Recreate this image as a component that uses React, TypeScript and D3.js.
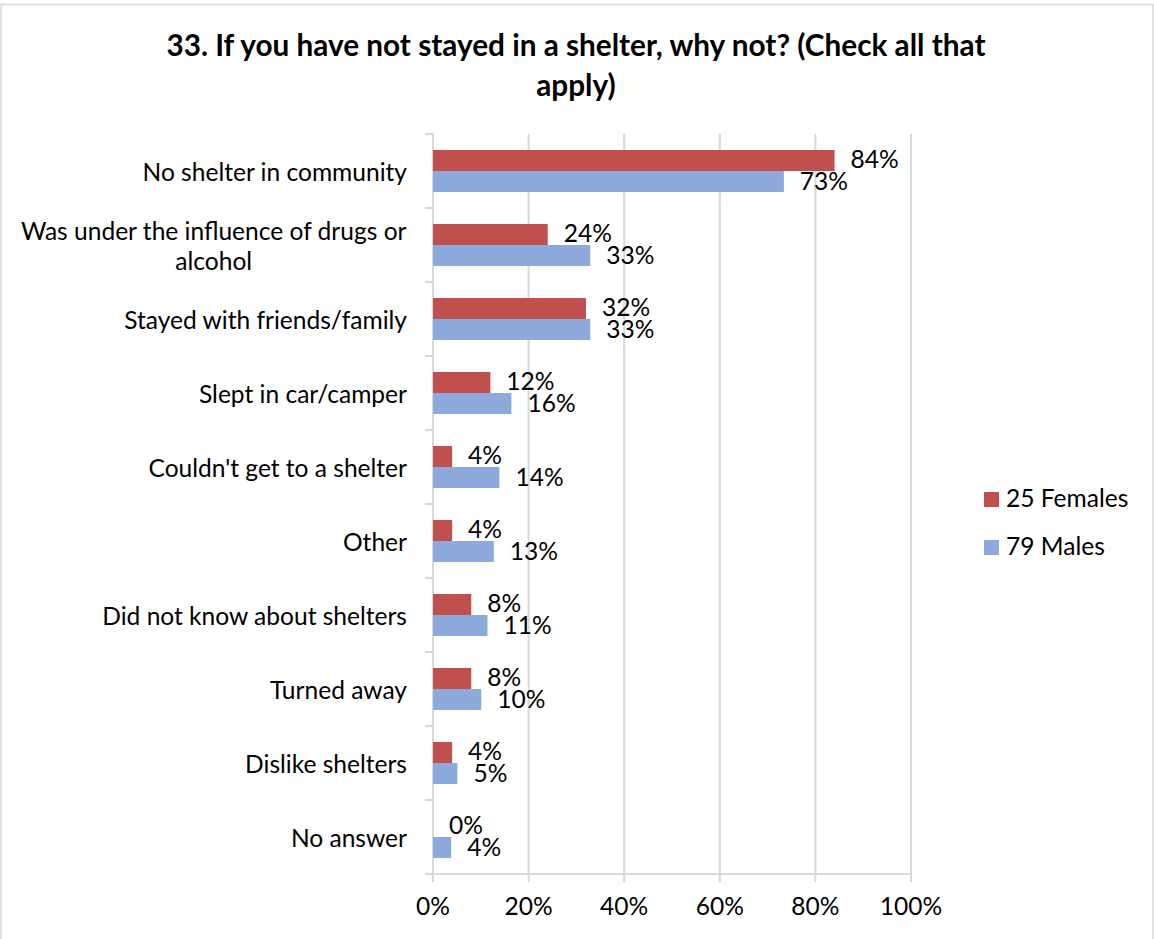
import React, { useMemo } from 'react';
import * as d3 from 'd3';

const title = ["33. If you have not stayed in a shelter, why not? (Check all that", "apply)"];
const categories = [
  "No shelter in community",
  "Was under the influence of drugs or\nalcohol",
  "Stayed with friends/family",
  "Slept in car/camper",
  "Couldn't get to a shelter",
  "Other",
  "Did not know about shelters",
  "Turned away",
  "Dislike shelters",
  "No answer",
];
const females = [84, 24, 32, 12, 4, 4, 8, 8, 4, 0];
const males = [73.4, 32.9, 32.9, 16.4, 13.9, 12.7, 11.4, 10.1, 5.1, 3.8];
const seriesNames = ["25 Females", "79 Males"];
const seriesColors = ["#C0504D", "#8EA9DB"];
const xTicks = [0, 20, 40, 60, 80, 100];

const FONT = "Lato, 'Open Sans', sans-serif";

function fitSize(text: string, weight: string, target: number) {
  try {
    const ctx = document.createElement('canvas').getContext('2d');
    if (!ctx) return 24;
    ctx.font = `${weight} 100px ${FONT}`;
    const w = ctx.measureText(text).width;
    return (100 * target) / w;
  } catch (e) {
    return 24;
  }
}

function measure(text: string, size: number) {
  const ctx = document.createElement('canvas').getContext('2d');
  if (!ctx) return text.length * size * 0.5;
  ctx.font = `normal ${size}px ${FONT}`;
  return ctx.measureText(text).width;
}

export default function App() {
  const W = 1154, H = 939;
  const left = 433, right = 911, top = 134, bottom = 874;
  const x = d3.scaleLinear().domain([0, 100]).range([left, right]);
  const y = d3.scaleBand<string>().domain(categories).range([top, bottom]).padding(0);
  const bw = y.bandwidth();
  const barH = bw * 0.284;

  const fs = useMemo(() => fitSize("No shelter in community", "normal", 265), []);
  const tfs = useMemo(() => fitSize(title[0], "bold", 822), []);
  const grid = "#D9D9D9";

  return (
    <svg width={W} height={H} style={{ position: 'absolute', left: 0, top: 0, fontFamily: FONT }}>
      <rect x={0} y={0} width={W} height={H} fill="#fff" />
      <rect x={1} y={4.5} width={1152} height={945} fill="#fff" stroke="#D9D9D9" strokeWidth={1.5} />
      {title.map((t, i) => (
        <text key={i} x={576} y={56 + i * 40} textAnchor="middle" fontWeight="bold" fontSize={tfs} fill="#000">{t}</text>
      ))}
      {/* gridlines */}
      {xTicks.slice(1).map((t) => (
        <line key={t} x1={x(t)} x2={x(t)} y1={top} y2={bottom + 8} stroke={grid} strokeWidth={2} />
      ))}
      {/* left axis */}
      <line x1={left} x2={left} y1={top} y2={bottom + 8} stroke={grid} strokeWidth={2} />
      {d3.range(categories.length + 1).map((i) => (
        <line key={i} x1={left - 8} x2={left} y1={top + i * bw} y2={top + i * bw} stroke={grid} strokeWidth={2} />
      ))}
      {/* bottom axis */}
      <line x1={left - 8} x2={right} y1={bottom} y2={bottom} stroke={grid} strokeWidth={2} />
      {xTicks.map((t) => (
        <text key={t} x={x(t)} y={915} textAnchor="middle" fontSize={fs} fill="#000">{t}%</text>
      ))}
      {/* bars */}
      {categories.map((c, i) => {
        const cy = (y(c) as number) + bw / 2;
        return (
          <g key={c}>
            <rect x={x(0)} y={cy - barH} width={x(females[i]) - x(0)} height={barH} fill={seriesColors[0]} />
            <rect x={x(0)} y={cy} width={x(males[i]) - x(0)} height={barH} fill={seriesColors[1]} />
            <text x={x(females[i]) + 16} y={cy - barH / 2 + 8} fontSize={fs} fill="#000">{Math.round(females[i])}%</text>
            <text x={x(males[i]) + 16} y={cy + barH / 2 + 8} fontSize={fs} fill="#000">{Math.round(males[i])}%</text>
          </g>
        );
      })}
      {/* category labels */}
      {categories.map((c) => {
        const lines = c.split("\n");
        const cy = (y(c) as number) + bw / 2;
        if (lines.length === 1) {
          return <text key={c} x={407} y={cy + 10} textAnchor="end" fontSize={fs} fill="#000">{c}</text>;
        }
        const w0 = measure(lines[0], fs);
        const cx = 407 - w0 / 2;
        return (
          <g key={c}>
            {lines.map((l, j) => (
              <text key={j} x={cx} y={cy + 10 + (j - (lines.length - 1) / 2) * 30} textAnchor="middle" fontSize={fs} fill="#000">{l}</text>
            ))}
          </g>
        );
      })}
      {/* legend */}
      {seriesNames.map((n, i) => (
        <g key={n}>
          <rect x={984} y={492 + i * 48} width={15} height={15} fill={seriesColors[i]} />
          <text x={1006} y={507 + i * 48} fontSize={fs} fill="#000">{n}</text>
        </g>
      ))}
    </svg>
  );
}
